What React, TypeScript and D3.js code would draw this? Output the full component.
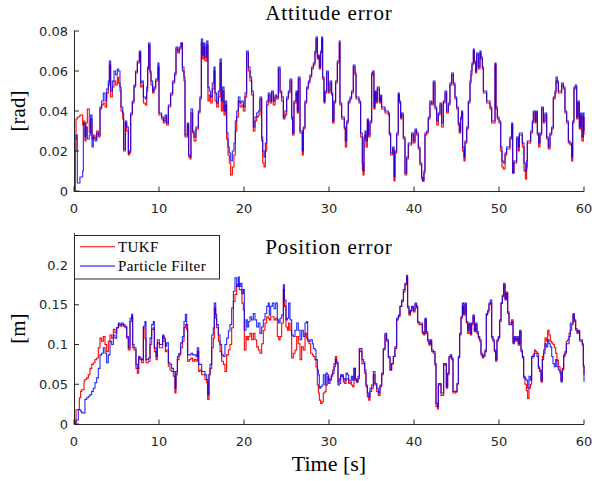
import React from "react";
import * as d3 from "d3";

// attitude error [rad]
const attTime = [
  0, 0.12, 0.24, 0.39, 0.7, 1.02, 1.1, 1.29, 1.41, 1.57,
  1.8, 1.96, 2.12, 2.27, 2.47, 2.67, 2.86, 3.06, 3.25, 3.45,
  3.65, 3.84, 4.04, 4.16, 4.31, 4.51, 4.71, 4.9, 5.1, 5.25,
  5.41, 5.53, 5.73, 5.84, 6.04, 6.2, 6.39, 6.51, 6.67, 6.86,
  7.06, 7.25, 7.45, 7.69, 7.84, 8.0, 8.16, 8.39, 8.55, 8.67,
  8.78, 8.94, 9.06, 9.25, 9.41, 9.61, 9.88, 10.0, 10.31, 10.51,
  10.71, 10.9, 11.1, 11.37, 11.61, 11.84, 12.0, 12.2, 12.39, 12.59,
  12.75, 12.94, 13.06, 13.33, 13.49, 13.65, 13.76, 13.96, 14.12, 14.35,
  14.63, 14.82, 14.98, 15.14, 15.29, 15.41, 15.61, 15.76, 15.92, 16.08,
  16.27, 16.47, 16.59, 16.78, 16.98, 17.18, 17.33, 17.49, 17.65, 17.8,
  17.96, 18.12, 18.27, 18.43, 18.63, 18.82, 18.98, 19.14, 19.33, 19.53,
  19.73, 19.92, 20.12, 20.31, 20.51, 20.71, 20.9, 21.1, 21.29, 21.49,
  21.69, 21.88, 22.08, 22.2, 22.35, 22.51, 22.67, 22.86, 23.06, 23.25,
  23.45, 23.65, 23.84, 24.04, 24.24, 24.43, 24.63, 24.82, 25.02, 25.22,
  25.41, 25.61, 25.72, 25.88, 26.12, 26.27, 26.39, 26.59, 26.86, 26.98,
  27.17, 27.37, 27.57, 27.76, 27.96, 28.16, 28.35, 28.47, 28.63, 28.74,
  28.86, 29.02, 29.14, 29.25, 29.41, 29.53, 29.72, 29.92, 30.12, 30.31,
  30.43, 30.59, 30.78, 30.98, 31.21, 31.29, 31.49, 31.8, 31.92, 32.08,
  32.27, 32.47, 32.66, 32.86, 33.06, 33.18, 33.53, 33.72, 33.92, 34.0,
  34.12, 34.23, 34.35, 34.51, 34.63, 34.82, 35.02, 35.14, 35.29, 35.41,
  35.53, 35.68, 35.92, 36.08, 36.19, 36.59, 36.98, 37.1, 37.25, 37.49,
  37.65, 37.76, 37.96, 38.15, 38.27, 38.43, 38.55, 38.74, 38.94, 39.14,
  39.33, 39.72, 39.92, 40.12, 40.31, 40.51, 40.7, 40.9, 41.02, 41.17,
  41.29, 41.49, 41.68, 41.88, 42.08, 42.27, 42.47, 42.67, 42.86, 43.06,
  43.25, 43.45, 43.65, 43.84, 44.04, 44.23, 44.43, 44.63, 44.82, 45.02,
  45.21, 45.33, 45.49, 45.61, 45.72, 45.88, 46.0, 46.2, 46.39, 46.59,
  46.7, 46.82, 46.98, 47.09, 47.25, 47.37, 47.57, 47.76, 47.88, 48.04,
  48.16, 48.55, 48.94, 49.14, 49.33, 49.53, 49.65, 49.8, 50.0, 50.2,
  50.35, 50.51, 50.71, 50.9, 51.29, 51.49, 51.61, 51.76, 52.08, 52.27,
  52.39, 52.74, 52.94, 53.1, 53.25, 53.33, 53.73, 53.92, 54.04, 54.24,
  54.35, 54.51, 54.67, 54.82, 55.02, 55.22, 55.41, 55.61, 55.8, 56.0,
  56.2, 56.39, 56.59, 56.71, 56.86, 56.98, 57.37, 57.57, 57.76, 57.96,
  58.16, 58.35, 58.55, 58.67, 58.82, 58.98, 59.14, 59.29, 59.45, 59.61,
  59.76, 59.92, 60,
];
const attPf = [
  0, 0.026, 0.028, 0.004, 0.007, 0.01, 0.034, 0.027, 0.032, 0.026,
  0.028, 0.038, 0.022, 0.027, 0.025, 0.029, 0.028, 0.042, 0.045, 0.049,
  0.045, 0.051, 0.055, 0.065, 0.05, 0.055, 0.06, 0.058, 0.061, 0.06,
  0.052, 0.042, 0.039, 0.021, 0.035, 0.032, 0.019, 0.02, 0.039, 0.045,
  0.053, 0.06, 0.065, 0.07, 0.054, 0.055, 0.047, 0.046, 0.052, 0.062,
  0.074, 0.06, 0.055, 0.05, 0.052, 0.056, 0.064, 0.039, 0.037, 0.035,
  0.038, 0.034, 0.043, 0.049, 0.055, 0.059, 0.072, 0.07, 0.072, 0.074,
  0.06, 0.057, 0.028, 0.034, 0.018, 0.017, 0.041, 0.03, 0.027, 0.032,
  0.04, 0.047, 0.076, 0.068, 0.074, 0.067, 0.075, 0.052, 0.05, 0.047,
  0.054, 0.062, 0.049, 0.044, 0.05, 0.066, 0.045, 0.052, 0.04, 0.045,
  0.029, 0.022, 0.019, 0.015, 0.02, 0.024, 0.035, 0.04, 0.047, 0.044,
  0.045, 0.042, 0.049, 0.07, 0.062, 0.057, 0.05, 0.032, 0.037, 0.039,
  0.04, 0.047, 0.027, 0.02, 0.017, 0.024, 0.045, 0.049, 0.045, 0.05,
  0.045, 0.048, 0.047, 0.062, 0.05, 0.047, 0.037, 0.04, 0.047, 0.05,
  0.056, 0.037, 0.029, 0.045, 0.05, 0.04, 0.057, 0.03, 0.02, 0.032,
  0.045, 0.052, 0.055, 0.058, 0.062, 0.064, 0.07, 0.077, 0.067, 0.068,
  0.062, 0.07, 0.077, 0.057, 0.045, 0.05, 0.06, 0.05, 0.055, 0.049,
  0.035, 0.045, 0.055, 0.065, 0.075, 0.044, 0.037, 0.032, 0.025, 0.035,
  0.045, 0.047, 0.05, 0.063, 0.059, 0.047, 0.045, 0.029, 0.014, 0.01,
  0.027, 0.03, 0.025, 0.036, 0.028, 0.035, 0.059, 0.06, 0.042, 0.05,
  0.045, 0.052, 0.045, 0.048, 0.042, 0.04, 0.039, 0.029, 0.019, 0.022,
  0.007, 0.02, 0.029, 0.049, 0.045, 0.037, 0.039, 0.027, 0.009, 0.017,
  0.024, 0.029, 0.025, 0.031, 0.029, 0.022, 0.014, 0.007, 0.005, 0.01,
  0.029, 0.03, 0.037, 0.045, 0.044, 0.055, 0.042, 0.035, 0.039, 0.044,
  0.034, 0.045, 0.05, 0.04, 0.044, 0.054, 0.059, 0.054, 0.047, 0.042,
  0.034, 0.03, 0.037, 0.04, 0.022, 0.017, 0.025, 0.032, 0.045, 0.055,
  0.06, 0.064, 0.071, 0.065, 0.06, 0.069, 0.062, 0.07, 0.067, 0.062,
  0.05, 0.045, 0.042, 0.035, 0.035, 0.064, 0.042, 0.037, 0.035, 0.022,
  0.015, 0.014, 0.019, 0.022, 0.027, 0.034, 0.009, 0.015, 0.027, 0.022,
  0.029, 0.024, 0.014, 0.01, 0.015, 0.025, 0.03, 0.035, 0.04, 0.035,
  0.04, 0.029, 0.024, 0.029, 0.042, 0.035, 0.039, 0.027, 0.022, 0.029,
  0.032, 0.047, 0.05, 0.057, 0.055, 0.05, 0.054, 0.052, 0.04, 0.035,
  0.025, 0.024, 0.017, 0.035, 0.052, 0.053, 0.037, 0.045, 0.032, 0.039,
  0.027, 0.039, 0.03,
];
const attTukf = [
  0, 0.02, 0.036, 0.037, 0.038, 0.033, 0.035, 0.025, 0.034, 0.041,
  0.029, 0.036, 0.026, 0.028, 0.026, 0.03, 0.027, 0.041, 0.043, 0.044,
  0.042, 0.049, 0.053, 0.063, 0.047, 0.052, 0.055, 0.053, 0.057, 0.054,
  0.05, 0.04, 0.036, 0.02, 0.034, 0.03, 0.018, 0.019, 0.038, 0.044,
  0.052, 0.059, 0.064, 0.069, 0.052, 0.053, 0.044, 0.043, 0.05, 0.061,
  0.073, 0.059, 0.053, 0.049, 0.051, 0.055, 0.062, 0.038, 0.036, 0.034,
  0.037, 0.033, 0.042, 0.048, 0.054, 0.058, 0.071, 0.069, 0.071, 0.074,
  0.062, 0.055, 0.027, 0.033, 0.017, 0.016, 0.039, 0.029, 0.025, 0.031,
  0.039, 0.046, 0.074, 0.066, 0.072, 0.065, 0.073, 0.045, 0.048, 0.044,
  0.051, 0.06, 0.045, 0.042, 0.047, 0.064, 0.04, 0.05, 0.038, 0.043,
  0.026, 0.018, 0.014, 0.008, 0.012, 0.018, 0.03, 0.037, 0.045, 0.042,
  0.043, 0.04, 0.047, 0.069, 0.06, 0.055, 0.048, 0.03, 0.035, 0.037,
  0.038, 0.046, 0.025, 0.014, 0.012, 0.02, 0.043, 0.048, 0.044, 0.049,
  0.043, 0.047, 0.046, 0.061, 0.049, 0.045, 0.036, 0.038, 0.046, 0.049,
  0.055, 0.036, 0.028, 0.044, 0.049, 0.039, 0.056, 0.029, 0.018, 0.031,
  0.044, 0.051, 0.054, 0.057, 0.061, 0.063, 0.069, 0.076, 0.066, 0.067,
  0.061, 0.069, 0.076, 0.056, 0.044, 0.049, 0.059, 0.049, 0.054, 0.048,
  0.034, 0.044, 0.054, 0.064, 0.074, 0.043, 0.036, 0.031, 0.022, 0.034,
  0.044, 0.046, 0.049, 0.062, 0.058, 0.046, 0.044, 0.027, 0.011, 0.008,
  0.026, 0.028, 0.022, 0.035, 0.027, 0.034, 0.058, 0.059, 0.041, 0.049,
  0.044, 0.051, 0.044, 0.047, 0.041, 0.039, 0.038, 0.028, 0.018, 0.021,
  0.005, 0.019, 0.028, 0.048, 0.044, 0.036, 0.038, 0.026, 0.008, 0.016,
  0.023, 0.028, 0.024, 0.03, 0.028, 0.021, 0.013, 0.006, 0.005, 0.009,
  0.028, 0.029, 0.036, 0.044, 0.043, 0.054, 0.041, 0.033, 0.038, 0.043,
  0.032, 0.044, 0.049, 0.039, 0.043, 0.053, 0.058, 0.053, 0.046, 0.041,
  0.033, 0.029, 0.036, 0.039, 0.02, 0.015, 0.024, 0.031, 0.044, 0.054,
  0.058, 0.063, 0.07, 0.064, 0.059, 0.068, 0.061, 0.069, 0.066, 0.061,
  0.049, 0.044, 0.041, 0.034, 0.034, 0.063, 0.041, 0.036, 0.034, 0.02,
  0.012, 0.011, 0.018, 0.021, 0.026, 0.033, 0.009, 0.014, 0.026, 0.02,
  0.028, 0.022, 0.01, 0.006, 0.012, 0.024, 0.029, 0.034, 0.039, 0.034,
  0.039, 0.028, 0.022, 0.028, 0.041, 0.034, 0.038, 0.026, 0.021, 0.028,
  0.031, 0.046, 0.049, 0.055, 0.054, 0.049, 0.053, 0.051, 0.039, 0.034,
  0.024, 0.023, 0.015, 0.034, 0.051, 0.052, 0.036, 0.044, 0.031, 0.038,
  0.025, 0.037, 0.028,
];

// position error [m]
const posTime = [
  0, 0.12, 0.24, 0.31, 0.51, 0.63, 0.78, 0.9, 1.02, 1.18,
  1.29, 1.49, 1.69, 1.88, 2.08, 2.27, 2.47, 2.67, 2.86, 3.06,
  3.25, 3.45, 3.65, 3.84, 4.04, 4.24, 4.43, 4.63, 4.82, 5.02,
  5.22, 5.41, 5.61, 5.8, 6.0, 6.2, 6.39, 6.59, 6.78, 6.9,
  7.06, 7.29, 7.45, 7.61, 7.76, 7.96, 8.16, 8.35, 8.47, 8.75,
  8.94, 9.14, 9.33, 9.45, 9.65, 9.8, 10.04, 10.24, 10.43, 10.59,
  10.75, 10.9, 11.1, 11.29, 11.49, 11.69, 11.88, 12.0, 12.16, 12.35,
  12.55, 12.75, 12.94, 13.1, 13.25, 13.37, 13.57, 13.76, 13.96, 14.16,
  14.35, 14.51, 14.67, 14.82, 15.02, 15.22, 15.41, 15.61, 15.73, 15.88,
  16.0, 16.2, 16.39, 16.51, 16.67, 16.78, 16.98, 17.18, 17.37, 17.57,
  17.76, 17.96, 18.16, 18.35, 18.55, 18.75, 18.94, 19.14, 19.33, 19.45,
  19.61, 19.76, 19.92, 20.04, 20.24, 20.39, 20.55, 20.71, 20.9, 21.1,
  21.29, 21.49, 21.69, 21.88, 22.08, 22.27, 22.47, 22.67, 22.86, 22.98,
  23.14, 23.33, 23.53, 23.73, 23.92, 24.08, 24.24, 24.43, 24.63, 24.75,
  24.94, 25.1, 25.25, 25.41, 25.61, 25.8, 26.0, 26.2, 26.39, 26.59,
  26.78, 26.98, 27.18, 27.37, 27.49, 27.65, 27.84, 28.04, 28.16, 28.35,
  28.47, 28.63, 28.75, 28.86, 29.02, 29.18, 29.33, 29.53, 29.65, 29.8,
  29.96, 30.12, 30.27, 30.43, 30.59, 30.75, 30.9, 31.06, 31.22, 31.37,
  31.53, 31.69, 31.84, 32.0, 32.16, 32.31, 32.47, 32.63, 32.78, 32.94,
  33.1, 33.25, 33.41, 33.57, 33.73, 33.88, 34.04, 34.2, 34.35, 34.51,
  34.67, 34.82, 35.02, 35.22, 35.41, 35.61, 35.8, 36.0, 36.2, 36.39,
  36.59, 36.78, 36.98, 37.18, 37.37, 37.57, 37.76, 37.96, 38.16, 38.35,
  38.55, 38.75, 38.94, 39.14, 39.25, 39.41, 39.57, 39.73, 39.92, 40.12,
  40.31, 40.43, 40.59, 40.82, 40.98, 41.14, 41.29, 41.45, 41.61, 41.76,
  41.92, 42.08, 42.27, 42.47, 42.59, 42.75, 42.86, 43.02, 43.18, 43.33,
  43.49, 43.65, 43.8, 43.96, 44.12, 44.27, 44.43, 44.59, 44.75, 44.9,
  45.06, 45.22, 45.37, 45.53, 45.69, 45.84, 46.0, 46.16, 46.31, 46.47,
  46.63, 46.78, 46.94, 47.1, 47.25, 47.41, 47.57, 47.73, 47.88, 48.04,
  48.2, 48.35, 48.51, 48.67, 48.82, 48.98, 49.14, 49.29, 49.45, 49.61,
  49.76, 49.92, 50.08, 50.24, 50.39, 50.55, 50.71, 50.86, 51.02, 51.18,
  51.33, 51.49, 51.65, 51.8, 51.96, 52.12, 52.27, 52.43, 52.59, 52.75,
  52.9, 53.06, 53.22, 53.37, 53.53, 53.69, 53.84, 54.0, 54.16, 54.31,
  54.47, 54.63, 54.78, 54.94, 55.1, 55.25, 55.41, 55.57, 55.73, 55.88,
  56.04, 56.2, 56.35, 56.51, 56.67, 56.82, 56.98, 57.18, 57.29, 57.45,
  57.61, 57.76, 57.92, 58.08, 58.24, 58.39, 58.55, 58.71, 58.86, 59.02,
  59.18, 59.33, 59.49, 59.65, 59.8, 59.92, 60,
];
const posPf = [
  0, 0.002, 0.005, 0.005, 0.018, 0.018, 0.016, 0.014, 0.014, 0.014,
  0.031, 0.033, 0.035, 0.037, 0.041, 0.045, 0.052, 0.058, 0.07, 0.087,
  0.089, 0.096, 0.089, 0.077, 0.087, 0.104, 0.1, 0.112, 0.108, 0.121,
  0.127, 0.125, 0.127, 0.125, 0.123, 0.11, 0.096, 0.133, 0.138, 0.1,
  0.096, 0.075, 0.07, 0.085, 0.083, 0.081, 0.123, 0.129, 0.081, 0.083,
  0.108, 0.125, 0.129, 0.096, 0.085, 0.106, 0.1, 0.1, 0.112, 0.108,
  0.098, 0.102, 0.077, 0.075, 0.07, 0.066, 0.045, 0.066, 0.085, 0.089,
  0.102, 0.11, 0.129, 0.138, 0.125, 0.087, 0.087, 0.089, 0.087, 0.087,
  0.085, 0.096, 0.075, 0.075, 0.066, 0.066, 0.062, 0.056, 0.037, 0.062,
  0.075, 0.112, 0.121, 0.152, 0.138, 0.125, 0.112, 0.1, 0.087, 0.085,
  0.1, 0.108, 0.117, 0.125, 0.146, 0.167, 0.184, 0.173, 0.185, 0.173,
  0.177, 0.164, 0.169, 0.118, 0.131, 0.122, 0.129, 0.135, 0.131, 0.139,
  0.131, 0.122, 0.127, 0.114, 0.122, 0.131, 0.139, 0.148, 0.152, 0.137,
  0.148, 0.152, 0.145, 0.152, 0.131, 0.127, 0.133, 0.137, 0.175, 0.156,
  0.131, 0.133, 0.152, 0.131, 0.112, 0.11, 0.118, 0.127, 0.118, 0.106,
  0.118, 0.11, 0.127, 0.129, 0.106, 0.104, 0.106, 0.101, 0.095, 0.093,
  0.081, 0.068, 0.062, 0.045, 0.047, 0.049, 0.062, 0.049, 0.064, 0.062,
  0.051, 0.055, 0.06, 0.064, 0.072, 0.081, 0.076, 0.049, 0.051, 0.062,
  0.06, 0.057, 0.055, 0.064, 0.062, 0.055, 0.055, 0.06, 0.055, 0.07,
  0.055, 0.053, 0.06, 0.095, 0.095, 0.081, 0.078, 0.068, 0.049, 0.039,
  0.034, 0.045, 0.049, 0.066, 0.051, 0.045, 0.039, 0.049, 0.064, 0.093,
  0.114, 0.106, 0.085, 0.068, 0.076, 0.085, 0.097, 0.133, 0.137, 0.148,
  0.156, 0.169, 0.177, 0.187, 0.148, 0.139, 0.143, 0.148, 0.143, 0.152,
  0.148, 0.129, 0.127, 0.127, 0.116, 0.114, 0.133, 0.116, 0.106, 0.101,
  0.106, 0.093, 0.091, 0.076, 0.026, 0.022, 0.051, 0.051, 0.039, 0.039,
  0.076, 0.076, 0.047, 0.064, 0.085, 0.087, 0.083, 0.041, 0.041, 0.041,
  0.051, 0.085, 0.114, 0.135, 0.152, 0.139, 0.152, 0.129, 0.118, 0.127,
  0.114, 0.127, 0.137, 0.118, 0.127, 0.116, 0.11, 0.106, 0.089, 0.085,
  0.087, 0.093, 0.139, 0.143, 0.152, 0.156, 0.11, 0.106, 0.093, 0.081,
  0.106, 0.11, 0.131, 0.152, 0.16, 0.175, 0.156, 0.164, 0.139, 0.125,
  0.125, 0.129, 0.101, 0.11, 0.106, 0.11, 0.101, 0.118, 0.093, 0.085,
  0.06, 0.057, 0.055, 0.045, 0.06, 0.055, 0.085, 0.085, 0.089, 0.089,
  0.085, 0.072, 0.068, 0.055, 0.081, 0.089, 0.101, 0.097, 0.106, 0.101,
  0.097, 0.085, 0.076, 0.072, 0.081, 0.072, 0.068, 0.064, 0.053, 0.068,
  0.085, 0.089, 0.101, 0.101, 0.11, 0.127, 0.127, 0.139, 0.131, 0.118,
  0.116, 0.118, 0.106, 0.106, 0.101, 0.072, 0.053,
];
const posTukf = [
  0, 0, 0.018, 0.018, 0.018, 0.033, 0.041, 0.043, 0.043, 0.054,
  0.056, 0.058, 0.062, 0.07, 0.075, 0.077, 0.081, 0.083, 0.096, 0.108,
  0.104, 0.11, 0.1, 0.091, 0.104, 0.112, 0.108, 0.119, 0.115, 0.121,
  0.125, 0.123, 0.125, 0.123, 0.121, 0.108, 0.093, 0.129, 0.135, 0.096,
  0.093, 0.07, 0.064, 0.083, 0.081, 0.077, 0.121, 0.108, 0.077, 0.079,
  0.1, 0.119, 0.121, 0.091, 0.081, 0.102, 0.096, 0.096, 0.11, 0.104,
  0.091, 0.093, 0.073, 0.068, 0.066, 0.06, 0.039, 0.062, 0.081, 0.087,
  0.096, 0.104, 0.121, 0.125, 0.119, 0.079, 0.081, 0.083, 0.079, 0.081,
  0.079, 0.091, 0.066, 0.068, 0.062, 0.062, 0.056, 0.052, 0.031, 0.062,
  0.07, 0.096, 0.108, 0.146, 0.133, 0.121, 0.104, 0.091, 0.079, 0.075,
  0.066, 0.087, 0.093, 0.1, 0.121, 0.154, 0.163, 0.175, 0.177, 0.169,
  0.169, 0.152, 0.143, 0.093, 0.11, 0.106, 0.11, 0.114, 0.106, 0.114,
  0.106, 0.097, 0.093, 0.089, 0.101, 0.118, 0.127, 0.135, 0.133, 0.131,
  0.135, 0.135, 0.131, 0.133, 0.11, 0.106, 0.11, 0.127, 0.169, 0.148,
  0.122, 0.118, 0.127, 0.118, 0.083, 0.089, 0.093, 0.11, 0.101, 0.081,
  0.097, 0.093, 0.114, 0.108, 0.104, 0.101, 0.089, 0.087, 0.085, 0.081,
  0.072, 0.049, 0.039, 0.03, 0.026, 0.028, 0.039, 0.041, 0.049, 0.06,
  0.055, 0.057, 0.062, 0.068, 0.076, 0.085, 0.078, 0.053, 0.057, 0.06,
  0.062, 0.053, 0.051, 0.057, 0.057, 0.051, 0.053, 0.049, 0.047, 0.07,
  0.057, 0.053, 0.057, 0.093, 0.091, 0.076, 0.076, 0.064, 0.047, 0.034,
  0.03, 0.041, 0.045, 0.062, 0.049, 0.041, 0.036, 0.047, 0.062, 0.095,
  0.112, 0.104, 0.083, 0.068, 0.076, 0.085, 0.095, 0.131, 0.135, 0.148,
  0.154, 0.166, 0.175, 0.185, 0.146, 0.137, 0.142, 0.147, 0.141, 0.15,
  0.146, 0.127, 0.125, 0.125, 0.114, 0.112, 0.131, 0.114, 0.104, 0.099,
  0.104, 0.091, 0.089, 0.074, 0.022, 0.019, 0.049, 0.05, 0.036, 0.036,
  0.074, 0.075, 0.045, 0.062, 0.083, 0.085, 0.081, 0.039, 0.039, 0.04,
  0.05, 0.083, 0.112, 0.133, 0.148, 0.137, 0.15, 0.127, 0.114, 0.125,
  0.112, 0.125, 0.135, 0.116, 0.125, 0.114, 0.108, 0.104, 0.087, 0.083,
  0.085, 0.091, 0.137, 0.141, 0.15, 0.152, 0.108, 0.104, 0.091, 0.079,
  0.104, 0.108, 0.129, 0.152, 0.162, 0.177, 0.158, 0.166, 0.141, 0.127,
  0.127, 0.131, 0.103, 0.108, 0.104, 0.108, 0.099, 0.116, 0.091, 0.083,
  0.058, 0.05, 0.042, 0.032, 0.045, 0.05, 0.083, 0.087, 0.093, 0.091,
  0.089, 0.07, 0.066, 0.053, 0.085, 0.093, 0.108, 0.104, 0.118, 0.112,
  0.104, 0.102, 0.1, 0.096, 0.089, 0.08, 0.072, 0.066, 0.055, 0.07,
  0.087, 0.091, 0.104, 0.106, 0.114, 0.118, 0.125, 0.137, 0.129, 0.12,
  0.114, 0.116, 0.104, 0.104, 0.099, 0.074, 0.062,
];

const xTicks = [0, 10, 20, 30, 40, 50, 60];
const attTicks = [0, 0.02, 0.04, 0.06, 0.08];
const posTicks = [0, 0.05, 0.1, 0.15, 0.2];
const seriesNames = ["TUKF", "Particle Filter"];
const seriesColors = ["#ff0000", "#0000ff"];

const W = 592;
const H = 481;
const LEFT = 74;
const RIGHT = 584;
const AXIS = "#262626";
const SERIF = "'Liberation Serif', 'Times New Roman', serif";
const SANS = "'DejaVu Sans', sans-serif";

const x = d3.scaleLinear().domain([0, 60]).range([LEFT, RIGHT]);

const fmt = (v: number) => String(+v.toFixed(2));

function Panel(props: {
  top: number; bottom: number; yMax: number; yTicks: number[];
  time: number[]; red: number[]; blue: number[];
  title: string; titleY: number; ylabel: string;
}) {
  const { top, bottom, yMax, yTicks, time, red, blue, title, titleY, ylabel } = props;
  const y = d3.scaleLinear().domain([0, yMax]).range([bottom, top]);
  const n = Math.min(time.length, red.length, blue.length);
  const idx = d3.range(n);
  const line = (vals: number[]) =>
    d3.line<number>().x(i => x(time[i])).y(i => y(vals[i])).curve(d3.curveStepAfter)(idx) || "";
  const yb = Math.round(bottom) + 0.5;
  return (
    <g>
      <path d={line(red)} fill="none" stroke={seriesColors[0]} strokeWidth={1.1} />
      <path d={line(blue)} fill="none" stroke={seriesColors[1]} strokeWidth={1.1} strokeOpacity={0.85} />
      <path d={`M${LEFT + 0.5},${y(yMax)}V${yb}H${RIGHT}`} fill="none" stroke={AXIS} strokeWidth={1} />
      {yTicks.map(t => (
        <g key={"y" + t}>
          <line x1={LEFT} x2={LEFT + 5} y1={y(t)} y2={y(t)} stroke={AXIS} />
          <text x={LEFT - 6} y={y(t)} dy="0.36em" textAnchor="end" fontFamily={SANS} fontSize={13} fill={AXIS}>{fmt(t)}</text>
        </g>
      ))}
      {xTicks.map(t => (
        <g key={"x" + t}>
          <line x1={x(t)} x2={x(t)} y1={yb} y2={yb - 5} stroke={AXIS} />
          <text x={x(t)} y={bottom + 17} dy="0.36em" textAnchor="middle" fontFamily={SANS} fontSize={13} fill={AXIS}>{t}</text>
        </g>
      ))}
      <text x={(LEFT + RIGHT) / 2} y={titleY} dy="0.35em" textAnchor="middle" fontFamily={SERIF} fontSize={21} letterSpacing={0.9} fill="#000">{title}</text>
      <text transform={`translate(18,${(top + bottom) / 2}) rotate(-90)`} dy="0.35em" textAnchor="middle" fontFamily={SERIF} fontSize={21} fill="#000">{ylabel}</text>
    </g>
  );
}

export default function App() {
  const legendY = [246.7, 266];
  return (
    <svg width={W} height={H} style={{ position: "absolute", left: 0, top: 0, background: "#fff" }}>
      <rect width={W} height={H} fill="#fff" />
      <Panel top={31} bottom={191} yMax={0.08} yTicks={attTicks} time={attTime} red={attTukf} blue={attPf}
        title="Attitude error" titleY={13} ylabel="[rad]" />
      <Panel top={424 - 0.24 * 795} bottom={424} yMax={0.24} yTicks={posTicks} time={posTime} red={posTukf} blue={posPf}
        title="Position error" titleY={247} ylabel="[m]" />
      <g>
        <rect x={74.5} y={235.5} width={145} height={43.5} fill="#fff" stroke={AXIS} strokeWidth={1} />
        {seriesNames.map((name, i) => (
          <g key={name}>
            <line x1={80} x2={115} y1={legendY[i]} y2={legendY[i]} stroke={seriesColors[i]} strokeWidth={1.1} />
            <text x={118} y={legendY[i]} dy="0.35em" fontFamily={SERIF} fontSize={15} letterSpacing={0.4} fill="#000">{name}</text>
          </g>
        ))}
      </g>
      <text x={(LEFT + RIGHT) / 2} y={463} dy="0.35em" textAnchor="middle" fontFamily={SERIF} fontSize={22} fill="#000">Time [s]</text>
    </svg>
  );
}
